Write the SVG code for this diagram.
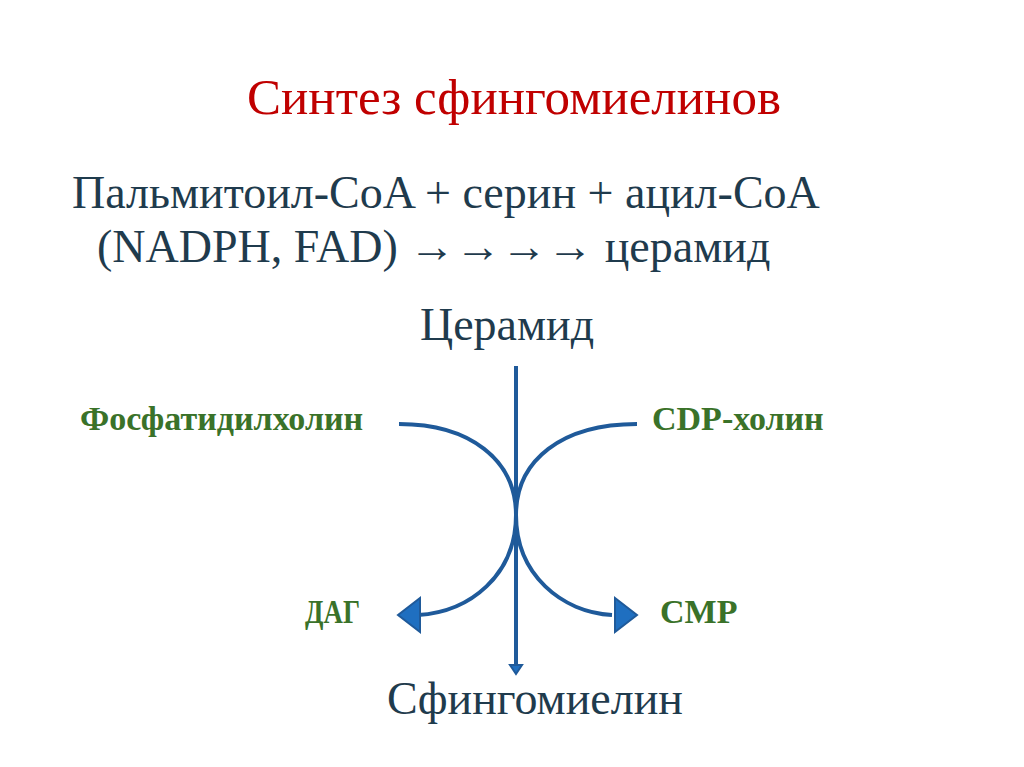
<svg xmlns="http://www.w3.org/2000/svg" width="1024" height="767" viewBox="0 0 1024 767">
<style>
.t{font-family:"Liberation Serif",serif;fill:#1f3b4d}
.g{font-family:"Liberation Serif",serif;font-weight:bold;fill:#3a7229;font-size:34px}
.c{fill:none;stroke:#1f5a9a;stroke-width:4}
.h{fill:#1f6fc0;stroke:#1f5a9a;stroke-width:2}
</style>
<rect width="1024" height="767" fill="#fff"/>
<text x="514" y="114" text-anchor="middle" font-family="Liberation Serif,serif" font-size="51" fill="#c00000">Синтез сфингомиелинов</text>
<text class="t" x="72" y="208" font-size="46">Пальмитоил-CoA + серин + ацил-CoA</text>
<text class="t" x="97" y="262" font-size="46">(NADPH, FAD) →→→→ церамид</text>
<g id="ceramide"><text class="t" x="507" y="340" text-anchor="middle" font-size="46">Церамид</text></g>
<g id="sphingomyelin"><text class="t" x="535" y="714" text-anchor="middle" font-size="46">Сфингомиелин</text></g>
<g id="pc"><text class="g" x="80" y="430">Фосфатидилхолин</text></g>
<g id="cdp"><text class="g" x="652" y="430">CDP-холин</text></g>
<g id="dag"><text class="g" x="305" y="623" textLength="55" lengthAdjust="spacingAndGlyphs">ДАГ</text></g>
<g id="cmp"><text class="g" x="660" y="623">CMP</text></g>
<g id="connectors">
<path class="c" d="M516 366 V668"/>
<path class="h" d="M510 665 L522 665 L516 674 Z"/>
<path class="c" d="M399 424 C470 424 516 460 516 515 C516 575 470 612 418 615"/>
<path class="h" d="M398 615 L420 598 L420 632 Z"/>
<path class="c" d="M637 424 C562 424 516 460 516 515 C516 575 562 612 612 615"/>
<path class="h" d="M637 615 L615 598 L615 632 Z"/>
</g>
</svg>
